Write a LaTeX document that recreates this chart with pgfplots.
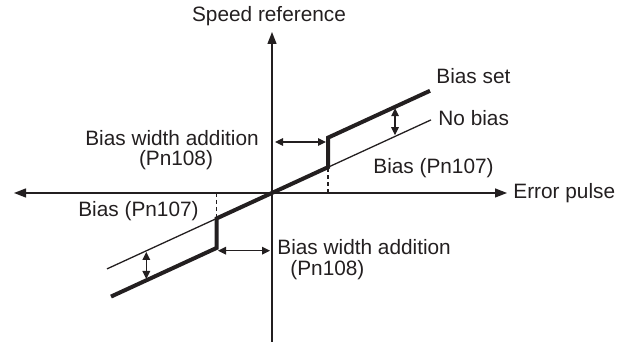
\documentclass[border=0pt]{standalone}
\usepackage{fontspec}
\setmainfont{Liberation Sans}
\usepackage{pgfplots}
\pgfplotsset{compat=1.18}
\usetikzlibrary{arrows.meta}
\definecolor{ink}{HTML}{231F20}

\begin{document}
\begin{tikzpicture}[
  lbl/.style={font=\fontsize{10.4}{12}\selectfont, text=ink, inner sep=0pt},
  axarrow/.style={line width=0.65pt, {Triangle[length=6pt,width=4.5pt]}-{Triangle[length=6pt,width=4.5pt]}},
  dbl/.style={line width=0.6pt, {Triangle[length=4pt,width=3.8pt]}-{Triangle[length=4pt,width=3.8pt]}},
]
\begin{axis}[
  width=315pt, height=171pt,
  scale only axis,
  hide axis,
  clip=false,
  xmin=-272, xmax=358,
  ymin=-149, ymax=193,
  every axis plot/.append style={ink},
]
% frame of the picture
\addplot[draw=none] coordinates {(-272,-149) (358,193)};

% axes
\addplot[axarrow] coordinates {(-258,0) (235,0)};
\addplot[line width=0.65pt, -{Triangle[length=6pt,width=4.5pt]}] coordinates {(0,-149) (0,161)};

% no bias (thin)
\addplot[line width=0.65pt] coordinates {(-165,-75.9) (159,73.1)};
% bias set (thick)
\addplot[line width=2pt, line join=miter] coordinates {
  (-161,-103.6) (-55.5,-55.0) (-55.5,-25.5) (56,25.8) (56,55.3) (158,102.2)};

% dashed guides
\addplot[line width=0.6pt, dash pattern=on 2pt off 1.5pt] coordinates {(-55.5,0) (-55.5,-24)};
\addplot[line width=0.6pt, dash pattern=on 2pt off 1.5pt] coordinates {(56,0) (56,24)};

% dimension arrows
\addplot[dbl] coordinates {(3,51) (54,51)};
\addplot[dbl] coordinates {(-54,-57.7) (-2,-57.7)};
\addplot[dbl] coordinates {(123,84.8) (123,57.8)};
\addplot[dbl] coordinates {(-125.7,-59) (-125.7,-86)};

% labels
\node[lbl] at (axis cs:-3,177) {Speed reference};
\node[lbl, anchor=west] at (axis cs:241,0) {Error pulse};
\node[lbl, anchor=west] at (axis cs:164,117) {Bias set};
\node[lbl, anchor=west] at (axis cs:166,75) {No bias};
\node[lbl] at (axis cs:-100,55) {Bias width addition};
\node[lbl] at (axis cs:-96,32.5) {(Pn108)};
\node[lbl, anchor=west] at (axis cs:101,25) {Bias (Pn107)};
\node[lbl, anchor=east] at (axis cs:-73,-17.7) {Bias (Pn107)};
\node[lbl, anchor=west] at (axis cs:5,-54.3) {Bias width addition};
\node[lbl, anchor=west] at (axis cs:18,-77) {(Pn108)};
\end{axis}
\end{tikzpicture}
\end{document}
